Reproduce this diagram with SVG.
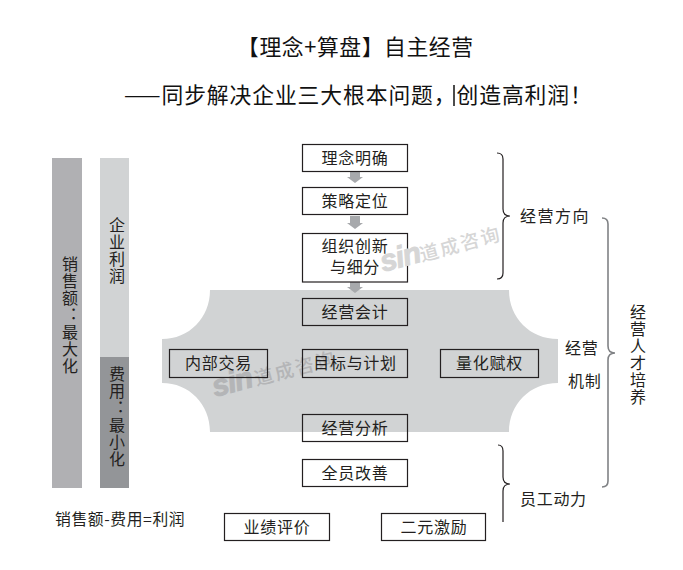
<svg xmlns="http://www.w3.org/2000/svg" width="683" height="570" viewBox="0 0 683 570">
<style>
text{font-family:"Noto Sans CJK SC","Liberation Sans",sans-serif;font-size:16px;fill:#231f20;letter-spacing:.7px}
.c{text-anchor:middle}
.v{writing-mode:vertical-rl;text-orientation:upright;letter-spacing:1px}
.t{font-size:21.8px;letter-spacing:.6px;fill:#111}
.b{fill:none;stroke:#231f20;stroke-width:1.2}
.box{fill:none;stroke:#231f20;stroke-width:1.2}
.wm{font-size:19px;letter-spacing:2px;font-weight:500}
.sm{font-family:"Liberation Sans",sans-serif;font-size:30px;font-weight:700;font-style:italic;letter-spacing:-1px;stroke-width:1}
.ar{fill:#a7a9ac}
</style>
<rect width="683" height="570" fill="#fff"/>
<g id="title">
<text class="t" x="237" y="55">【理念+算盘】自主经营</text>
<text class="t" x="124" y="103" style="letter-spacing:.9px">——同步解决企业三大根本问题，创造高利润！</text>
<path d="M454 85V106" stroke="#111" stroke-width="1.5"/>
</g>
<g id="bar-sales"><rect x="52" y="158" width="30" height="330" fill="#b0b0b3"/>
<text class="v" x="70" y="256">销售额：最大化</text></g>
<g id="bar-profit"><rect x="100" y="158" width="29" height="199" fill="#d1d3d4"/>
<text class="v" x="117" y="217">企业利润</text></g>
<g id="bar-cost"><rect x="100" y="357" width="29" height="131" fill="#939598"/>
<text class="v" x="117" y="366">费用：最小化</text></g>
<g id="formula"><text x="55" y="525" style="letter-spacing:.6px;font-size:15.8px">销售额-费用=利润</text></g>
<g id="mechanism-area">
<path d="M210 290H509C509 318 530 339 558 339V383C530 383 509 404 509 432H210C210 404 189 383 162 383V339C189 339 210 318 210 290Z" fill="#d1d3d4"/>
<g transform="translate(215 397) rotate(-15)"><text class="sm" style="fill:#b4b5b7;stroke:#b4b5b7" x="0" y="0">sin</text><text class="wm" style="fill:#b4b5b7" x="43" y="0">道成咨询</text></g>
<text x="565" y="354">经营</text><text x="568" y="387">机制</text>
</g>
<g id="connectors">
<path class="ar" d="M350 170H360V177H363L355 183L347 177H350Z"/>
<path class="ar" d="M350 216H360V223H363L355 229L347 223H350Z"/>
<path class="ar" d="M350 281H360V287H363L355 293L347 287H350Z"/>
<path class="b" d="M497 153C501 153 503 155 503 159V209C503 213 505 216 510 216C505 216 503 219 503 223V273C503 277 501 279 497 279"/>
<path class="b" d="M498 445C501 445 503 447 503 451V477C503 481 505 484 510 484C505 484 503 487 503 491V522"/>
<path class="b" style="stroke:#808285;stroke-width:1.6" d="M602 218C606 218 608 220 608 224V346C608 350 610 353 615 353C610 353 608 356 608 360V481C608 485 606 487 602 487"/>
</g>
<g id="n1"><rect class="box" style="fill:#fff" x="302.5" y="144.5" width="105" height="27"/><text class="c" x="355" y="164">理念明确</text></g>
<g id="n2"><rect class="box" style="fill:#fff" x="302.5" y="187.5" width="105" height="27"/><text class="c" x="355" y="207">策略定位</text></g>
<g id="n3"><rect class="box" style="fill:#fff" x="302.5" y="233.5" width="105" height="48.5"/><text class="c"><tspan x="355" y="252">组织创新</tspan><tspan x="355" y="273">与细分</tspan></text></g>
<g id="watermark-top"><g transform="translate(383 272) rotate(-15)"><text class="sm" style="fill:#d6d6d6;stroke:#d6d6d6" x="0" y="0">sin</text><text class="wm" style="fill:#d6d6d6" x="40" y="0">道成咨询</text></g></g>
<g id="n4"><rect class="box" x="302.5" y="298.5" width="105" height="27"/><text class="c" x="355" y="318">经营会计</text></g>
<g id="n5"><rect class="box" x="169.5" y="349.5" width="98" height="28"/><text class="c" x="218.5" y="369">内部交易</text></g>
<g id="n6"><rect class="box" x="302.5" y="349.5" width="105" height="28"/><text class="c" x="355" y="369">目标与计划</text></g>
<g id="n7"><rect class="box" x="440.5" y="349.5" width="98" height="28"/><text class="c" x="489.5" y="369">量化赋权</text></g>
<g id="n8"><rect class="box" x="302.5" y="414.5" width="105" height="27"/><text class="c" x="355" y="434">经营分析</text></g>
<g id="n9"><rect class="box" x="302.5" y="459.5" width="105" height="27"/><text class="c" x="355" y="479">全员改善</text></g>
<g id="n10"><rect class="box" x="224.5" y="513.5" width="105" height="27"/><text class="c" x="277" y="533">业绩评价</text></g>
<g id="n11"><rect class="box" x="381.5" y="513.5" width="104" height="27"/><text class="c" x="434" y="533">二元激励</text></g>
<g id="label-direction"><text x="520" y="222" style="letter-spacing:1.5px">经营方向</text></g>
<g id="label-motivation"><text x="520" y="505">员工动力</text></g>
<g id="label-talent"><text class="v" x="638" y="304">经营人才培养</text></g>
</svg>
